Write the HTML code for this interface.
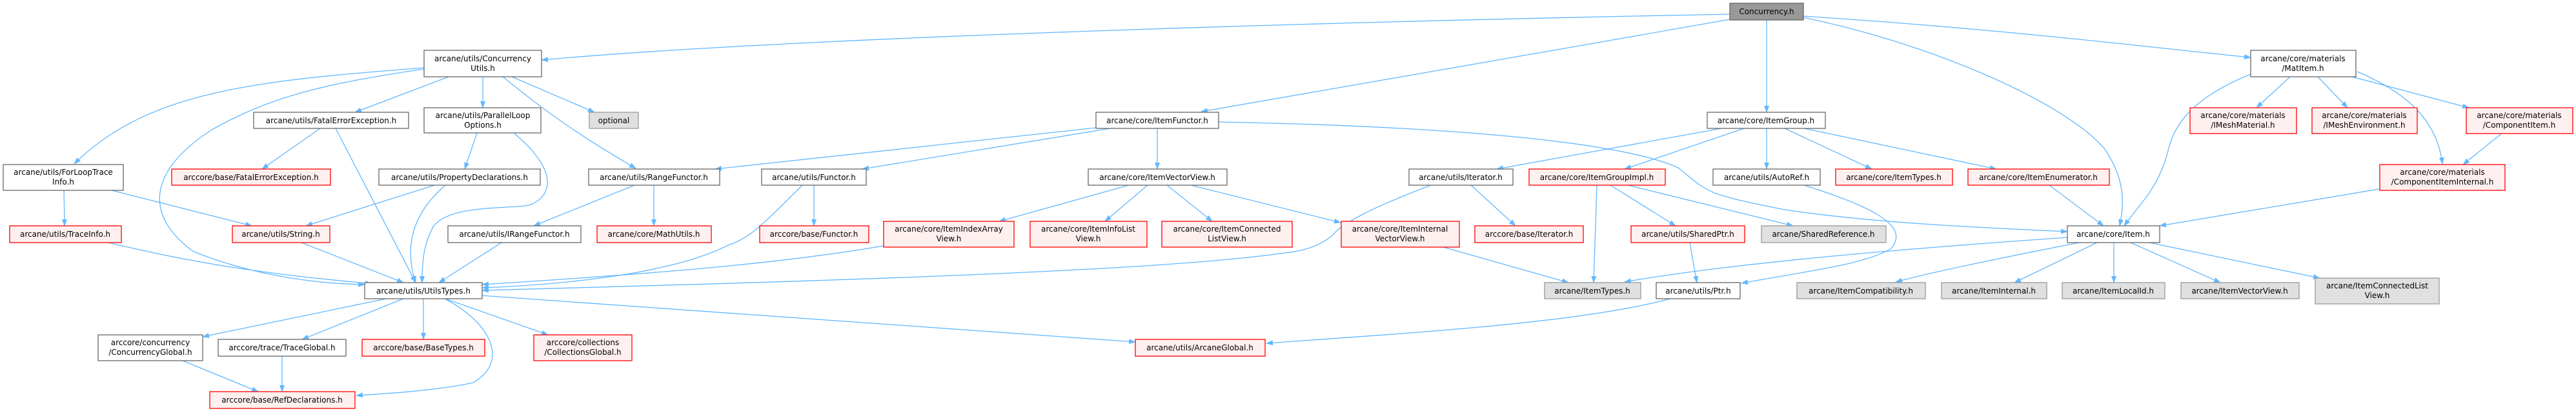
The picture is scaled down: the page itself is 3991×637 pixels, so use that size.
<!DOCTYPE html>
<html><head><meta charset="utf-8"><style>
html,body{margin:0;padding:0;background:#fff;}
svg{display:block;}
text{font-family:"DejaVu Sans","Liberation Sans",sans-serif;font-size:12px;fill:#000;text-anchor:middle;}
.e{fill:none;stroke:#63b8ff;stroke-width:1.3;marker-end:url(#a);}
.w{fill:#fff;stroke:#666;stroke-width:1.3;}
.r{fill:#fff0f0;stroke:#f00;stroke-width:1.3;}
.g{fill:#e0e0e0;stroke:#999;stroke-width:1.3;}
.k{fill:#999;stroke:#666;stroke-width:1.3;}
</style></head><body>
<svg width="3991" height="637" viewBox="0 0 3991 637" xmlns="http://www.w3.org/2000/svg">
<defs><marker id="a" markerWidth="11" markerHeight="8" refX="10" refY="4" orient="auto" markerUnits="userSpaceOnUse"><path d="M0,0 L11,4 L0,8 z" fill="#63b8ff"/></marker></defs>

<!-- edges -->
<path class="e" d="M2680,22 C2000,35 1200,60 839,93"/>
<path class="e" d="M2680,30 C2400,80 2100,130 1861,173"/>
<path class="e" d="M2737,31 L2737,174"/>
<path class="e" d="M2794,25 C3100,45 3300,70 3487,89"/>
<path class="e" d="M2794,27 C3000,70 3200,160 3260,230 C3295,280 3290,320 3284,350"/>
<path class="e" d="M657,105 C400,125 230,140 115,254"/>
<path class="e" d="M657,107 C500,130 420,150 330,200 C220,270 230,340 300,390 C400,430 500,440 565,441"/>
<path class="e" d="M695,119 L550,174"/>
<path class="e" d="M748,119 L748,167"/>
<path class="e" d="M793,119 L921,174"/>
<path class="e" d="M779,119 C830,160 880,200 985,261"/>
<path class="e" d="M496,199 L406,262"/>
<path class="e" d="M520,199 L644,438"/>
<path class="e" d="M739,206 L720,262"/>
<path class="e" d="M797,207 C860,260 860,300 823,317 C800,325 700,315 672,350 C655,380 654,410 654,438"/>
<path class="e" d="M99,295 L100,350"/>
<path class="e" d="M173,295 L390,350"/>
<path class="e" d="M673,287 L474,350"/>
<path class="e" d="M690,287 C640,330 625,380 644,438"/>
<path class="e" d="M983,287 L827,350"/>
<path class="e" d="M1013,287 L1013,350"/>
<path class="e" d="M777,376 L680,438"/>
<path class="e" d="M168,376 C350,420 480,430 576,440"/>
<path class="e" d="M467,376 L625,438"/>
<path class="e" d="M1261,287 L1261,350"/>
<path class="e" d="M1243,287 C1180,350 1160,370 1128,380 C1050,420 900,440 747,446"/>
<path class="e" d="M1698,198 L1108,262"/>
<path class="e" d="M1720,199 L1336,262"/>
<path class="e" d="M1793,199 L1793,262"/>
<path class="e" d="M1888,189 C2200,195 2500,215 2600,260 C2650,300 2640,300 2765,325 C2900,345 3050,352 3203,359"/>
<path class="e" d="M1749,287 L1548,343"/>
<path class="e" d="M1778,287 L1712,343"/>
<path class="e" d="M1808,287 L1878,343"/>
<path class="e" d="M1845,287 L2077,345"/>
<path class="e" d="M1369,381 C1200,410 1000,425 747,441"/>
<path class="e" d="M2217,287 C2130,320 2080,345 2064,365 C2040,385 2010,390 1990,392 C1800,420 1300,435 747,450"/>
<path class="e" d="M2279,287 L2348,350"/>
<path class="e" d="M2667,199 L2319,262"/>
<path class="e" d="M2702,199 L2517,262"/>
<path class="e" d="M2737,199 L2737,262"/>
<path class="e" d="M2765,199 L2900,262"/>
<path class="e" d="M2795,199 L3093,262"/>
<path class="e" d="M2474,287 L2469,438"/>
<path class="e" d="M2495,287 L2596,350"/>
<path class="e" d="M2522,287 L2778,350"/>
<path class="e" d="M2236,383 L2430,438"/>
<path class="e" d="M2618,376 L2629,438"/>
<path class="e" d="M2795,287 C2900,320 2960,350 2930,385 C2890,410 2800,420 2698,439"/>
<path class="e" d="M2588,463 C2450,500 2200,515 1962,532"/>
<path class="e" d="M746,458 L1759,530"/>
<path class="e" d="M598,463 L314,522"/>
<path class="e" d="M625,463 L468,526"/>
<path class="e" d="M656,463 L656,526"/>
<path class="e" d="M690,463 L849,519"/>
<path class="e" d="M689,463 C760,500 790,560 733,593 C680,605 600,610 552,613"/>
<path class="e" d="M283,559 L400,607"/>
<path class="e" d="M437,552 L437,607"/>
<path class="e" d="M3203,368 C3000,382 2700,405 2517,437"/>
<path class="e" d="M3221,376 C3100,400 3000,420 2937,437"/>
<path class="e" d="M3249,376 L3121,438"/>
<path class="e" d="M3275,376 L3275,438"/>
<path class="e" d="M3301,376 L3440,438"/>
<path class="e" d="M3330,376 L3594,431"/>
<path class="e" d="M3175,287 L3259,350"/>
<path class="e" d="M3487,115 C3400,150 3370,190 3360,230 C3345,290 3320,310 3291,350"/>
<path class="e" d="M3548,119 L3496,167"/>
<path class="e" d="M3591,119 L3637,167"/>
<path class="e" d="M3644,119 L3825,167"/>
<path class="e" d="M3652,111 C3720,140 3775,180 3784,254"/>
<path class="e" d="M3877,206 L3816,255"/>
<path class="e" d="M3686,293 L3346,350"/>

<!-- nodes -->
<rect class="k" x="2680" y="5" width="114" height="26"/><text x="2737" y="22">Concurrency.h</text>

<rect class="w" x="657" y="78" width="182" height="41"/><text x="748" y="95">arcane/utils/Concurrency</text><text x="748" y="110">Utils.h</text>
<rect class="w" x="3487" y="78" width="163" height="41"/><text x="3568" y="95">arcane/core/materials</text><text x="3568" y="110">/MatItem.h</text>

<rect class="w" x="393" y="174" width="240" height="25"/><text x="513" y="191">arcane/utils/FatalErrorException.h</text>
<rect class="w" x="657" y="167" width="181" height="39"/><text x="748" y="183">arcane/utils/ParallelLoop</text><text x="748" y="198">Options.h</text>
<rect class="g" x="913" y="174" width="76" height="25"/><text x="951" y="191">optional</text>
<rect class="w" x="1698" y="174" width="190" height="25"/><text x="1793" y="191">arcane/core/ItemFunctor.h</text>
<rect class="w" x="2645" y="174" width="183" height="25"/><text x="2736" y="191">arcane/core/ItemGroup.h</text>
<rect class="r" x="3393" y="167" width="165" height="40"/><text x="3475" y="183">arcane/core/materials</text><text x="3475" y="198">/IMeshMaterial.h</text>
<rect class="r" x="3582" y="167" width="163" height="40"/><text x="3663" y="183">arcane/core/materials</text><text x="3663" y="198">/IMeshEnvironment.h</text>
<rect class="r" x="3821" y="167" width="165" height="40"/><text x="3903" y="183">arcane/core/materials</text><text x="3903" y="198">/ComponentItem.h</text>

<rect class="w" x="5" y="255" width="186" height="40"/><text x="98" y="271">arcane/utils/ForLoopTrace</text><text x="98" y="286">Info.h</text>
<rect class="r" x="266" y="262" width="246" height="25"/><text x="389" y="279">arccore/base/FatalErrorException.h</text>
<rect class="w" x="587" y="262" width="250" height="25"/><text x="712" y="279">arcane/utils/PropertyDeclarations.h</text>
<rect class="w" x="912" y="262" width="203" height="25"/><text x="1013" y="279">arcane/utils/RangeFunctor.h</text>
<rect class="w" x="1180" y="262" width="162" height="25"/><text x="1261" y="279">arcane/utils/Functor.h</text>
<rect class="w" x="1686" y="262" width="215" height="25"/><text x="1793" y="279">arcane/core/ItemVectorView.h</text>
<rect class="w" x="2183" y="262" width="161" height="25"/><text x="2263" y="279">arcane/utils/Iterator.h</text>
<rect class="r" x="2369" y="262" width="211" height="25"/><text x="2474" y="279">arcane/core/ItemGroupImpl.h</text>
<rect class="w" x="2654" y="262" width="166" height="25"/><text x="2737" y="279">arcane/utils/AutoRef.h</text>
<rect class="r" x="2844" y="262" width="181" height="25"/><text x="2934" y="279">arcane/core/ItemTypes.h</text>
<rect class="r" x="3049" y="262" width="219" height="25"/><text x="3158" y="279">arcane/core/ItemEnumerator.h</text>
<rect class="r" x="3687" y="255" width="194" height="40"/><text x="3784" y="271">arcane/core/materials</text><text x="3784" y="286">/ComponentItemInternal.h</text>

<rect class="r" x="15" y="350" width="173" height="26"/><text x="101" y="367">arcane/utils/TraceInfo.h</text>
<rect class="r" x="360" y="350" width="151" height="26"/><text x="435" y="367">arcane/utils/String.h</text>
<rect class="w" x="694" y="350" width="206" height="26"/><text x="797" y="367">arcane/utils/IRangeFunctor.h</text>
<rect class="r" x="925" y="350" width="177" height="26"/><text x="1013" y="367">arcane/core/MathUtils.h</text>
<rect class="r" x="1177" y="350" width="169" height="26"/><text x="1261" y="367">arccore/base/Functor.h</text>
<rect class="r" x="1369" y="343" width="202" height="40"/><text x="1470" y="359">arcane/core/ItemIndexArray</text><text x="1470" y="374">View.h</text>
<rect class="r" x="1596" y="343" width="181" height="40"/><text x="1686" y="359">arcane/core/ItemInfoList</text><text x="1686" y="374">View.h</text>
<rect class="r" x="1800" y="343" width="202" height="40"/><text x="1901" y="359">arcane/core/ItemConnected</text><text x="1901" y="374">ListView.h</text>
<rect class="r" x="2078" y="343" width="183" height="40"/><text x="2169" y="359">arcane/core/ItemInternal</text><text x="2169" y="374">VectorView.h</text>
<rect class="r" x="2285" y="350" width="168" height="26"/><text x="2369" y="367">arccore/base/Iterator.h</text>
<rect class="r" x="2527" y="350" width="176" height="26"/><text x="2615" y="367">arcane/utils/SharedPtr.h</text>
<rect class="g" x="2729" y="350" width="193" height="26"/><text x="2825" y="367">arcane/SharedReference.h</text>
<rect class="w" x="3203" y="350" width="143" height="26"/><text x="3274" y="367">arcane/core/Item.h</text>

<rect class="w" x="565" y="438" width="182" height="25"/><text x="656" y="455">arcane/utils/UtilsTypes.h</text>
<rect class="g" x="2393" y="438" width="149" height="25"/><text x="2467" y="455">arcane/ItemTypes.h</text>
<rect class="w" x="2566" y="438" width="130" height="25"/><text x="2631" y="455">arcane/utils/Ptr.h</text>
<rect class="g" x="2784" y="438" width="199" height="25"/><text x="2883" y="455">arcane/ItemCompatibility.h</text>
<rect class="g" x="3008" y="438" width="163" height="25"/><text x="3089" y="455">arcane/ItemInternal.h</text>
<rect class="g" x="3195" y="438" width="159" height="25"/><text x="3274" y="455">arcane/ItemLocalId.h</text>
<rect class="g" x="3379" y="438" width="183" height="25"/><text x="3470" y="455">arcane/ItemVectorView.h</text>
<rect class="g" x="3587" y="431" width="192" height="40"/><text x="3683" y="447">arcane/ItemConnectedList</text><text x="3683" y="462">View.h</text>

<rect class="w" x="152" y="519" width="162" height="40"/><text x="233" y="535">arccore/concurrency</text><text x="233" y="550">/ConcurrencyGlobal.h</text>
<rect class="w" x="338" y="526" width="198" height="26"/><text x="437" y="543">arccore/trace/TraceGlobal.h</text>
<rect class="r" x="561" y="526" width="190" height="26"/><text x="656" y="543">arccore/base/BaseTypes.h</text>
<rect class="r" x="827" y="519" width="152" height="40"/><text x="903" y="535">arccore/collections</text><text x="903" y="550">/CollectionsGlobal.h</text>
<rect class="r" x="1759" y="526" width="201" height="26"/><text x="1859" y="543">arcane/utils/ArcaneGlobal.h</text>

<rect class="r" x="325" y="607" width="225" height="26"/><text x="437" y="624">arccore/base/RefDeclarations.h</text>
</svg>
</body></html>
